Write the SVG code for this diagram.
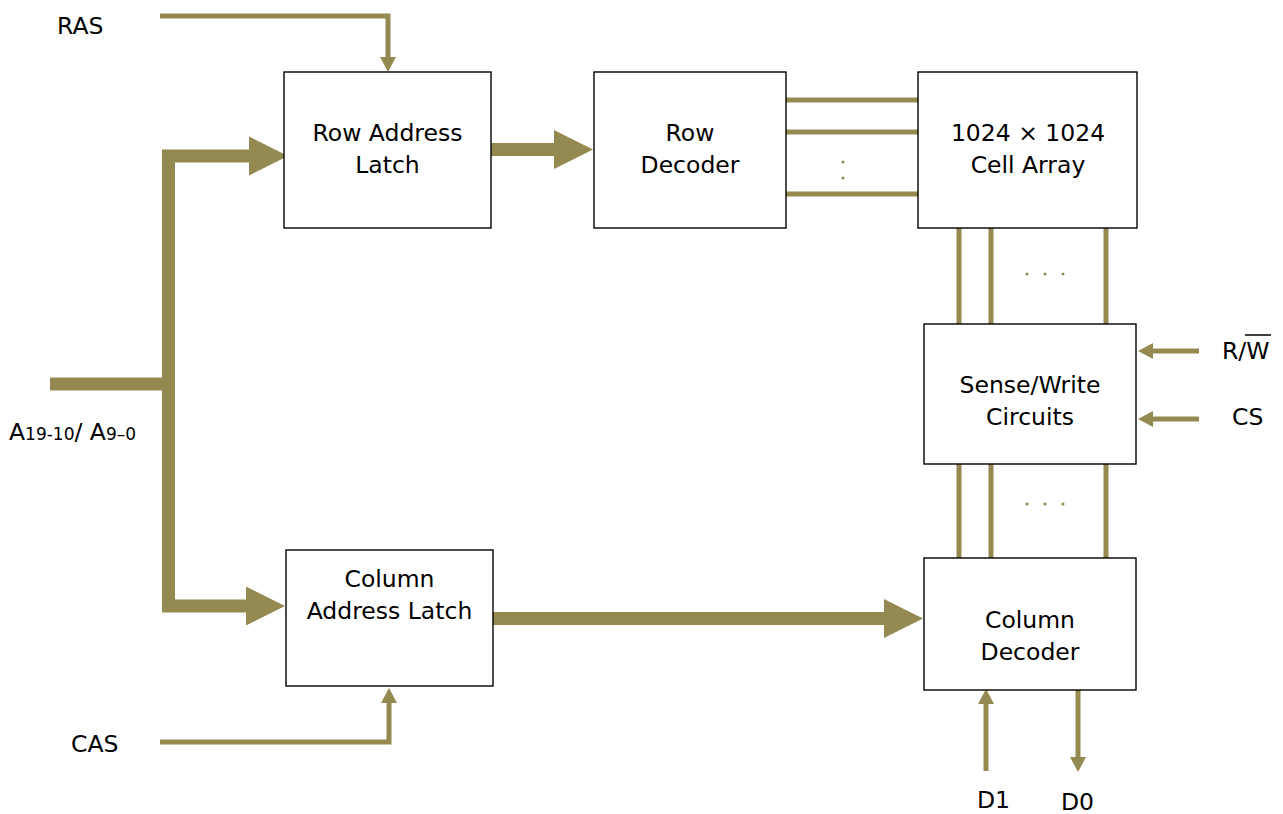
<svg xmlns="http://www.w3.org/2000/svg" width="1283" height="814" viewBox="0 0 1283 814">
<style>
.box{fill:#fff;stroke:#000;stroke-width:1.4}
.t{font-family:"DejaVu Sans","Liberation Sans",sans-serif;font-size:23.5px;fill:#000;text-anchor:middle}
.l{font-family:"DejaVu Sans","Liberation Sans",sans-serif;font-size:23.5px;fill:#000}
.bus{fill:none;stroke:#948A51;stroke-width:13;stroke-linejoin:miter}
.thin{fill:none;stroke:#948A51;stroke-width:5}
.dot{fill:#948A51}
</style>
<defs>
<marker id="big" markerUnits="userSpaceOnUse" markerWidth="40" markerHeight="40" refX="0" refY="19.5" orient="auto" overflow="visible">
<path d="M0,0 L39,19.5 L0,39 z" fill="#948A51"/>
</marker>
<marker id="small" markerUnits="userSpaceOnUse" markerWidth="16" markerHeight="16" refX="0" refY="8" orient="auto" overflow="visible">
<path d="M0,0 L15,8 L0,16 z" fill="#948A51"/>
</marker>
</defs>
<rect width="1283" height="814" fill="#fff"/>
<g id="connectors">
<path class="bus" d="M50,384 H175"/>
<path class="bus" d="M168.5,384 V156 H249" marker-end="url(#big)"/>
<path class="bus" d="M168.5,384 V606 H246" marker-end="url(#big)"/>
<path class="bus" d="M491,149.5 H554" marker-end="url(#big)"/>
<path class="bus" d="M493,618.5 H884" marker-end="url(#big)"/>
<path class="thin" d="M160,16 H388 V57" marker-end="url(#small)"/>
<path class="thin" d="M160,742 H389 V703" marker-end="url(#small)"/>
<path class="thin" d="M1199,351 H1153" marker-end="url(#small)"/>
<path class="thin" d="M1199,419 H1153" marker-end="url(#small)"/>
<path class="thin" d="M986,771 V704" marker-end="url(#small)"/>
<path class="thin" d="M1078,690 V757" marker-end="url(#small)"/>
<path class="thin" d="M786,100 H918 M786,132 H918 M786,194 H918"/>
<circle class="dot" cx="843" cy="162" r="1.5"/>
<circle class="dot" cx="843" cy="178" r="1.5"/>
<path class="thin" d="M959,228 V324 M991,228 V324 M1106,228 V324"/>
<circle class="dot" cx="1027" cy="274" r="1.5"/>
<circle class="dot" cx="1045" cy="274" r="1.5"/>
<circle class="dot" cx="1063" cy="274" r="1.5"/>
<path class="thin" d="M959,464 V558 M991,464 V558 M1106,464 V558"/>
<circle class="dot" cx="1027" cy="504" r="1.5"/>
<circle class="dot" cx="1045" cy="504" r="1.5"/>
<circle class="dot" cx="1063" cy="504" r="1.5"/>
</g>
<g id="row-address-latch">
<rect class="box" x="284" y="72" width="207" height="156"/>
<text class="t" x="387.5" y="141">Row Address</text>
<text class="t" x="387.5" y="173">Latch</text>
</g>
<g id="row-decoder">
<rect class="box" x="594" y="72" width="192" height="156"/>
<text class="t" x="690" y="141">Row</text>
<text class="t" x="690" y="173">Decoder</text>
</g>
<g id="cell-array">
<rect class="box" x="918" y="72" width="219" height="156"/>
<text class="t" x="1028" y="141">1024 × 1024</text>
<text class="t" x="1028" y="173">Cell Array</text>
</g>
<g id="sense-write">
<rect class="box" x="924" y="324" width="212" height="140"/>
<text class="t" x="1030" y="393">Sense/Write</text>
<text class="t" x="1030" y="425">Circuits</text>
</g>
<g id="column-decoder">
<rect class="box" x="924" y="558" width="212" height="132"/>
<text class="t" x="1030" y="628">Column</text>
<text class="t" x="1030" y="660">Decoder</text>
</g>
<g id="column-address-latch">
<rect class="box" x="286" y="550" width="207" height="136"/>
<text class="t" x="389.5" y="587">Column</text>
<text class="t" x="389.5" y="619">Address Latch</text>
</g>
<g id="labels">
<text class="l" x="57" y="34">RAS</text>
<text class="l" x="71" y="752">CAS</text>
<text class="l" x="977" y="808">D1</text>
<text class="l" x="1061" y="810">D0</text>
<text class="l" x="1232" y="425">CS</text>
<text class="l" x="1222" y="359">R/W</text>
<line x1="1245" y1="335" x2="1271" y2="335" stroke="#000" stroke-width="1.5"/>
<text class="l" x="9" y="440">A<tspan font-size="17">19-10</tspan>/ A<tspan font-size="17">9–0</tspan></text>
</g>
</svg>
